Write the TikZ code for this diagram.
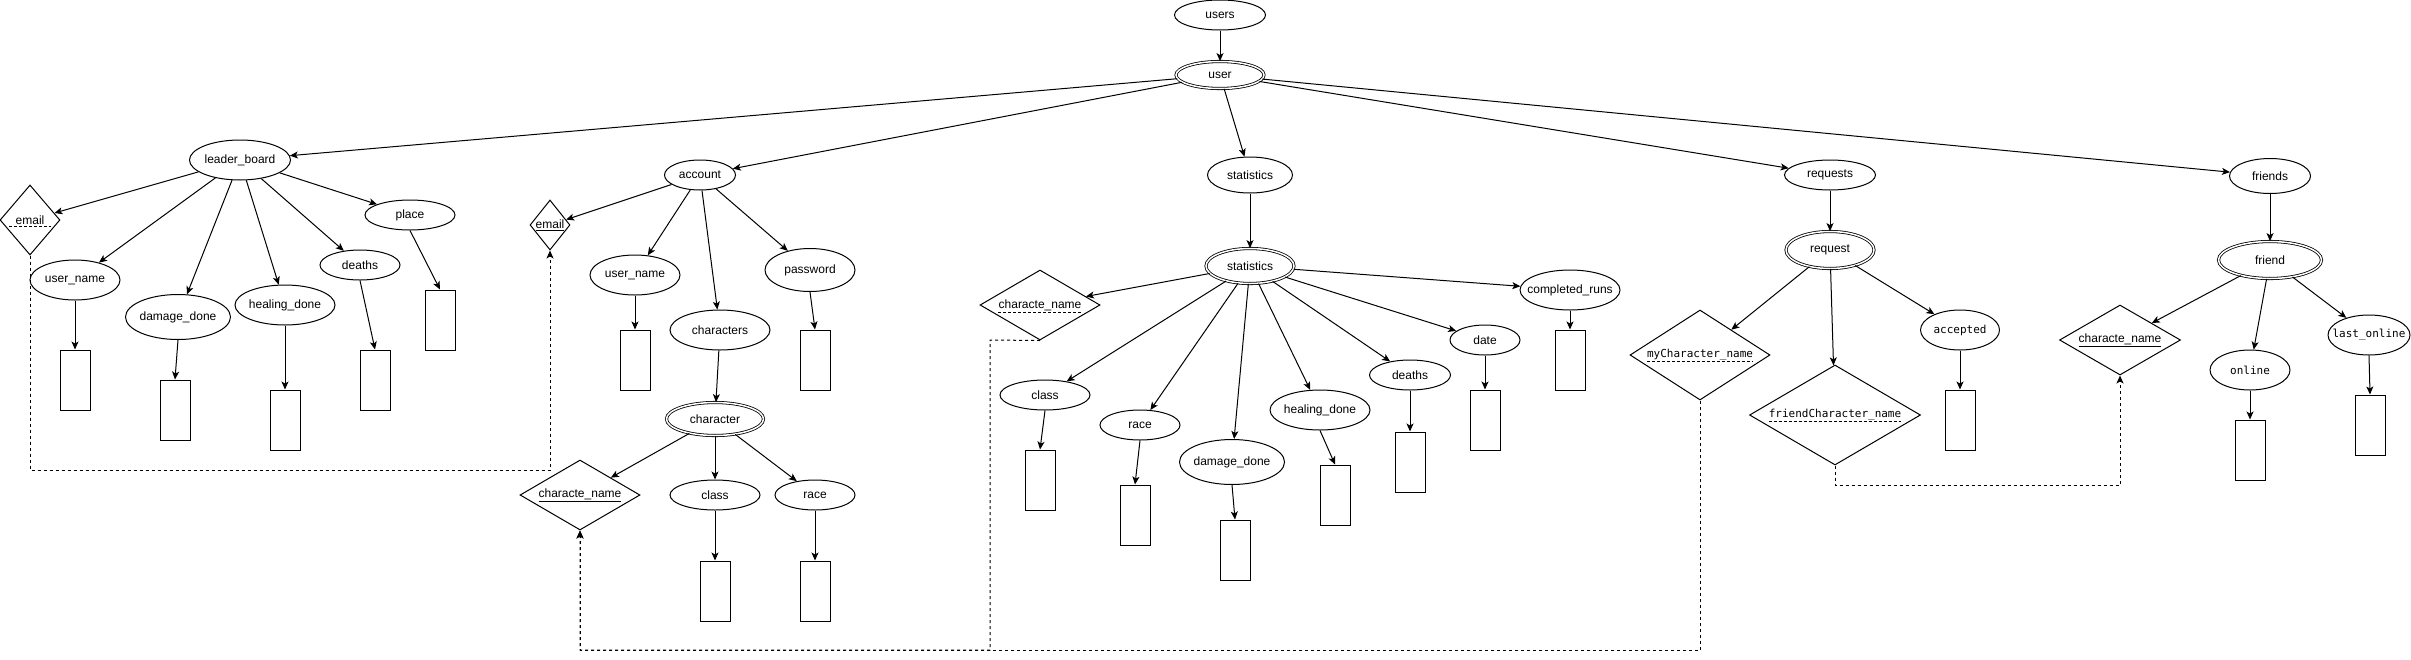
\documentclass[tikz,border=0pt]{standalone}
\usepackage{fontspec}
\setmainfont{Liberation Sans}
\newfontfamily\monof{DejaVu Sans Mono}
\usetikzlibrary{shapes.geometric,arrows.meta,calc}
\newcommand\mktxt[1]{\makebox[0pt]{#1}}
\begin{document}
\begin{tikzpicture}[x=1pt,y=-1pt,
  every node/.style={font=\fontsize{12}{14}\selectfont},
  sz/.style 2 args={minimum width=#1pt,minimum height=#2pt},
  attr/.style={ellipse,draw,line width=1pt,inner sep=0pt},
  dbl/.style={ellipse,draw,double,double distance=1.5pt,line width=0.8pt,inner sep=0pt},
  rel/.style={diamond,draw,line width=1pt,inner sep=0pt},
  val/.style={rectangle,draw,line width=1pt,minimum width=30pt,minimum height=60pt,inner sep=0pt},
  txt/.style={inner sep=0pt},
  mono/.style={font=\monof\fontsize{11}{13}\selectfont},
  arr/.style={-{Stealth[length=8pt,width=7pt,inset=2pt]},line width=1pt},
  darr/.style={arr,dash pattern=on 3pt off 3pt},
  dln/.style={line width=0.9pt,dash pattern=on 3pt off 2pt},
]
\useasboundingbox (0,0) rectangle (2411,659);

% top
\node[attr,sz={91}{30}] (users) at (1220,15) {\mktxt{users}};
\node[dbl,sz={88}{27}] (user) at (1220,75) {\mktxt{user}};

% leader board
\node[attr,sz={101}{40}] (lb) at (240,160) {\mktxt{leader\_board}};
\node[rel,sz={60}{70}] (lbemail) at (30,220) {};
\node[txt] (lbemailt) at (lbemail) {email};
\node[attr,sz={90}{40}] (lbuser) at (75,280) {\mktxt{user\_name}};
\node[attr,sz={105}{45}] (lbdmg) at (178,317) {\mktxt{damage\_done}};
\node[attr,sz={100}{40}] (lbheal) at (285,305) {\mktxt{healing\_done}};
\node[attr,sz={80}{30}] (lbdeaths) at (360,265) {\mktxt{deaths}};
\node[attr,sz={90}{30}] (lbplace) at (410,215) {\mktxt{place}};
\node[val] (lbuserv) at (75,380) {};
\node[val] (lbdmgv) at (175,410) {};
\node[val] (lbhealv) at (285,420) {};
\node[val] (lbdeathsv) at (375,380) {};
\node[val] (lbplacev) at (440,320) {};

% account
\node[attr,sz={71}{30}] (acc) at (700,175) {\mktxt{account}};
\node[rel,sz={40}{50}] (accemail) at (550,225) {};
\node[txt] (accemailt) at (accemail) {\underline{email}};
\node[attr,sz={90}{40}] (accuser) at (635,275) {\mktxt{user\_name}};
\node[attr,sz={100}{40}] (chars) at (720,330) {\mktxt{characters}};
\node[attr,sz={90}{43}] (pwd) at (810,270) {\mktxt{password}};
\node[val] (accuserv) at (635,360) {};
\node[val] (pwdv) at (815,360) {};
\node[dbl,sz={97}{33}] (character) at (715,419) {\mktxt{character}};
\node[rel,sz={120}{70}] (charname) at (580,495) {};
\node[txt] (charnamet) at (charname) {\underline{characte\_name}};
\node[attr,sz={90}{30}] (charclass) at (715,495) {\mktxt{class}};
\node[attr,sz={80}{30}] (charrace) at (815,495) {\mktxt{race}};
\node[val] (charclassv) at (715,591) {};
\node[val] (charracev) at (815,591) {};

% statistics
\node[attr,sz={85}{36}] (stat) at (1250,175) {\mktxt{statistics}};
\node[dbl,sz={88}{35}] (stat2) at (1250,266) {\mktxt{statistics}};
\node[rel,sz={120}{70}] (stcname) at (1040,305) {};
\node[txt] (stcnamet) at (stcname) {characte\_name};
\node[attr,sz={90}{30}] (stclass) at (1045,395) {\mktxt{class}};
\node[attr,sz={80}{30}] (strace) at (1140,425) {\mktxt{race}};
\node[attr,sz={105}{45}] (stdmg) at (1232,462) {\mktxt{damage\_done}};
\node[attr,sz={100}{40}] (stheal) at (1320,410) {\mktxt{healing\_done}};
\node[attr,sz={81}{30}] (stdeaths) at (1410,375) {\mktxt{deaths}};
\node[attr,sz={70}{30}] (stdate) at (1485,340) {\mktxt{date}};
\node[attr,sz={100}{40}] (stcomp) at (1570,290) {\mktxt{completed\_runs}};
\node[val] (stclassv) at (1040,480) {};
\node[val] (stracev) at (1135,515) {};
\node[val] (stdmgv) at (1235,550) {};
\node[val] (sthealv) at (1335,495) {};
\node[val] (stdeathsv) at (1410,462) {};
\node[val] (stdatev) at (1485,420) {};
\node[val] (stcompv) at (1570,360) {};

% requests
\node[attr,sz={91}{30}] (req) at (1830,175) {\mktxt{requests}};
\node[dbl,sz={88}{37}] (req2) at (1830,250) {\mktxt{request}};
\node[rel,sz={140}{90}] (mychar) at (1700,355) {};
\node[txt,mono] (mychart) at (mychar) {myCharacter\_name};
\node[rel,sz={171}{100}] (frchar) at (1835,415) {};
\node[txt,mono] (frchart) at (frchar) {friendCharacter\_name};
\node[attr,mono,sz={79}{40}] (accepted) at (1960,330) {\mktxt{accepted}};
\node[val] (acceptedv) at (1960,420) {};

% friends
\node[attr,sz={81}{35}] (fr) at (2270,176) {\mktxt{friends}};
\node[dbl,sz={103}{37}] (fr2) at (2270,260) {\mktxt{friend}};
\node[rel,sz={121}{70}] (frcname) at (2120,340) {};
\node[txt] (frcnamet) at (frcname) {\underline{characte\_name}};
\node[attr,mono,sz={80}{40}] (online) at (2250,370) {\mktxt{online}};
\node[attr,mono,sz={82}{40}] (lastonline) at (2369,335) {\mktxt{last\_online}};
\node[val] (onlinev) at (2250,450) {};
\node[val] (lastonlinev) at (2370,425) {};

% dashed underlines
\draw[dln] ([xshift=-6pt,yshift=-2.5pt]lbemailt.base west) -- ([xshift=6pt,yshift=-2.5pt]lbemailt.base east);
\draw[dln] ([yshift=-4pt]stcnamet.base west) -- ([yshift=-4pt]stcnamet.base east);
\draw[dln] ([yshift=-4pt]mychart.base west) -- ([yshift=-4pt]mychart.base east);
\draw[dln] ([yshift=-4pt]frchart.base west) -- ([yshift=-4pt]frchart.base east);

% connectors
\draw[arr] (users) -- (user);
\foreach \t in {lb,acc,stat,req,fr} \draw[arr] (user) -- (\t);
\foreach \t in {lbemail,lbuser,lbdmg,lbheal,lbdeaths,lbplace} \draw[arr] (lb) -- (\t);
\foreach \t in {lbuser,lbdmg,lbheal,lbdeaths,lbplace} \draw[arr] (\t.south) -- (\t v.north);
\foreach \t in {accemail,accuser,chars,pwd} \draw[arr] (acc) -- (\t);
\foreach \t in {accuser,pwd,charclass,charrace} \draw[arr] (\t.south) -- (\t v.north);
\draw[arr] (chars) -- (character);
\foreach \t in {charname,charclass,charrace} \draw[arr] (character) -- (\t);
\draw[arr] (stat) -- (stat2);
\foreach \t in {stcname,stclass,strace,stdmg,stheal,stdeaths,stdate,stcomp} \draw[arr] (stat2) -- (\t);
\foreach \t in {stclass,strace,stdmg,stheal,stdeaths,stdate,stcomp} \draw[arr] (\t.south) -- (\t v.north);
\draw[arr] (req) -- (req2);
\foreach \t in {mychar,frchar,accepted} \draw[arr] (req2) -- (\t);
\draw[arr] (accepted.south) -- (acceptedv.north);
\draw[arr] (fr) -- (fr2);
\foreach \t in {frcname,online,lastonline} \draw[arr] (fr2) -- (\t);
\foreach \t in {online,lastonline} \draw[arr] (\t.south) -- (\t v.north);

% dashed foreign-key lines
\coordinate (k1) at (30,470);
\draw[darr] (lbemail.south) -- (k1) -| (accemail.south);
\coordinate (k2) at (990,340);
\coordinate (k3) at (990,650);
\draw[darr] (stcname.south) -- (k2) -- (k3) -| (charname.south);
\coordinate (k4) at (1700,650);
\draw[darr] (mychar.south) -- (k4) -| (charname.south);
\coordinate (k5) at (1835,485);
\draw[darr] (frchar.south) -- (k5) -| (frcname.south);
\end{tikzpicture}
\end{document}
